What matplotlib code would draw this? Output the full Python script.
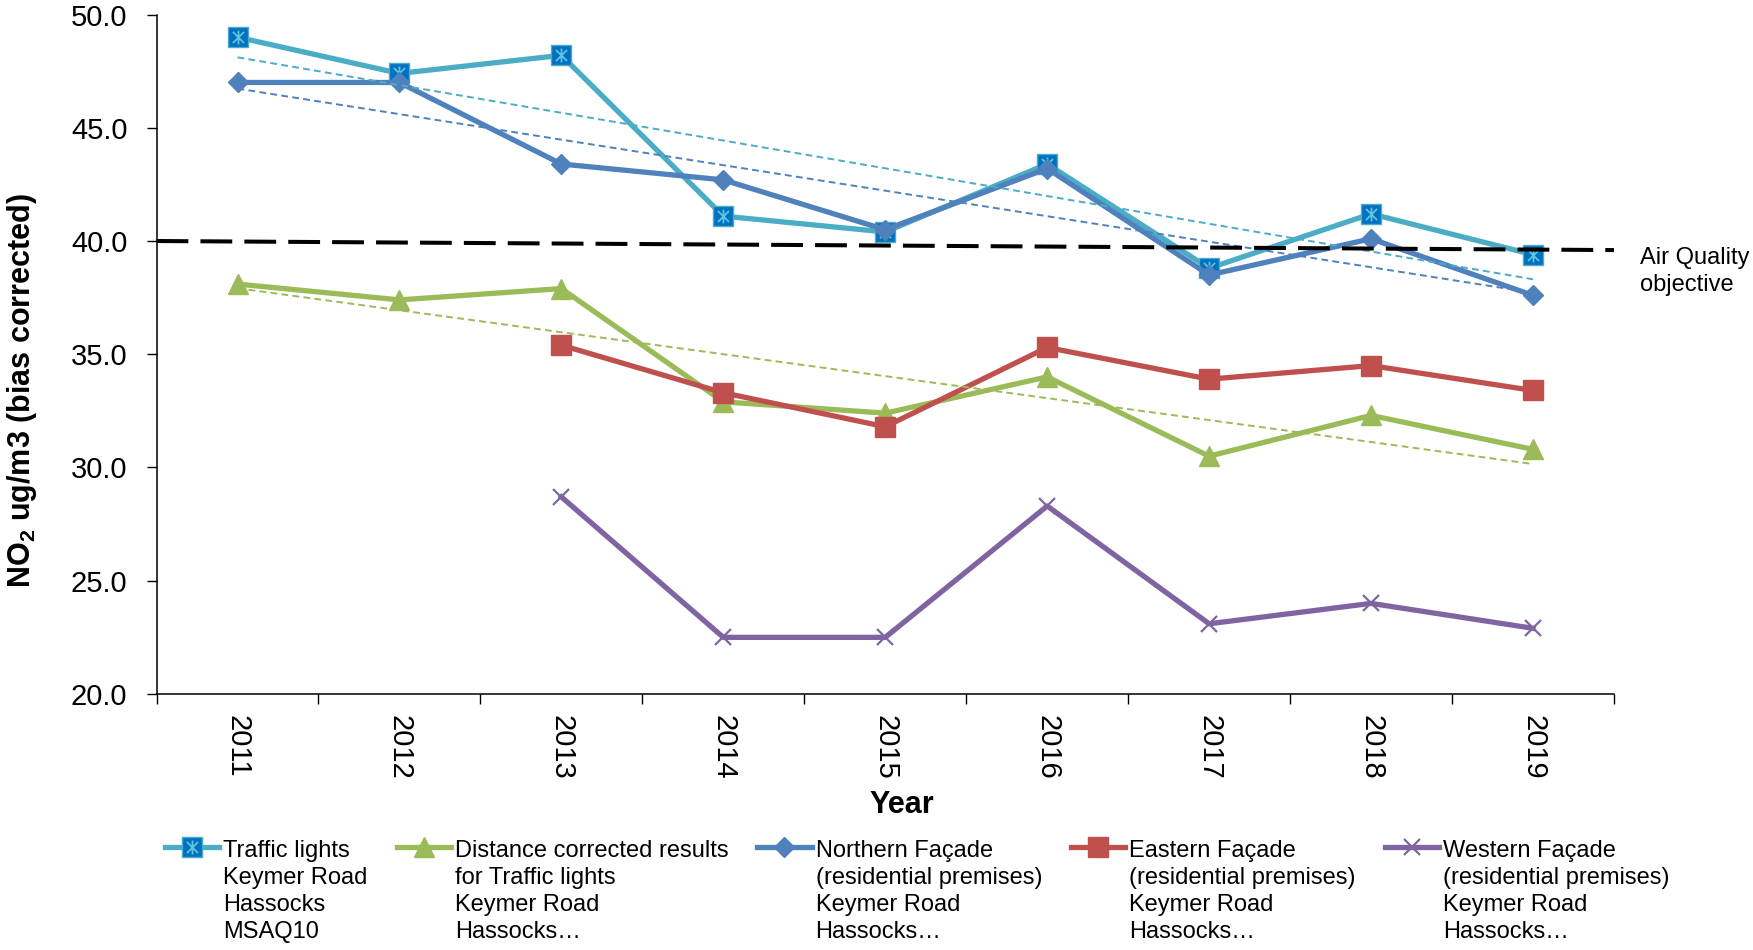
import numpy as np
import matplotlib
matplotlib.use("Agg")
import matplotlib.pyplot as plt
from matplotlib.lines import Line2D
from matplotlib.path import Path
from matplotlib.legend_handler import HandlerLine2D, HandlerTuple

plt.rcParams["font.family"] = ["Liberation Sans", "DejaVu Sans"]
plt.rcParams["mathtext.fontset"] = "custom"
plt.rcParams["mathtext.rm"] = "Liberation Sans"
plt.rcParams["mathtext.bf"] = "Liberation Sans:bold"

# ---- data -------------------------------------------------------------
years = ["2011", "2012", "2013", "2014", "2015", "2016", "2017", "2018", "2019"]
traffic_lights = [49.0, 47.4, 48.2, 41.1, 40.4, 43.4, 38.8, 41.2, 39.4]
distance_corrected = [38.1, 37.4, 37.9, 32.9, 32.4, 34.0, 30.5, 32.3, 30.8]
northern_facade = [47.0, 47.0, 43.4, 42.7, 40.5, 43.2, 38.5, 40.1, 37.6]
eastern_facade = [np.nan, np.nan, 35.4, 33.3, 31.8, 35.3, 33.9, 34.5, 33.4]
western_facade = [np.nan, np.nan, 28.7, 22.5, 22.5, 28.3, 23.1, 24.0, 22.9]
aq_objective = [40.0, 39.6]          # objective line level at the left / right edge
y_ticks = [20, 25, 30, 35, 40, 45, 50]

series_labels = [
    "Traffic lights\nKeymer Road\nHassocks\nMSAQ10",
    "Distance corrected results\nfor Traffic lights\nKeymer Road\nHassocks\u2026",
    "Northern Fa\u00e7ade\n(residential premises)\nKeymer Road\nHassocks\u2026",
    "Eastern Fa\u00e7ade\n(residential premises)\nKeymer Road\nHassocks\u2026",
    "Western Fa\u00e7ade\n(residential premises)\nKeymer Road\nHassocks\u2026",
]

# ---- styling ------------------------------------------------------------
C_TRAFFIC = "#4BACC6"
C_TRAFFIC_MK = "#0070C0"
C_GREEN = "#9BBB59"
C_BLUE = "#4F81BD"
C_RED = "#C0504D"
C_PURPLE = "#8064A2"
LW = 3.8

# asterisk-like marker: an "x" with a vertical bar through it
star_path = Path(
    [(-1, -1), (1, 1), (-1, 1), (1, -1), (0, -1.25), (0, 1.25)],
    [Path.MOVETO, Path.LINETO, Path.MOVETO, Path.LINETO, Path.MOVETO, Path.LINETO],
)


class FirstLineHandler(HandlerLine2D):
    """Line handler that lifts the legend key up to the first text line."""

    def __init__(self, lift, **kw):
        super().__init__(**kw)
        self.lift = lift

    def create_artists(self, legend, orig_handle, xdescent, ydescent,
                       width, height, fontsize, trans):
        arts = super().create_artists(legend, orig_handle, xdescent, ydescent,
                                      width, height, fontsize, trans)
        for a in arts:
            a.set_ydata(np.asarray(a.get_ydata(), dtype=float) + self.lift)
        return arts


fig = plt.figure(figsize=(17.53, 9.50), dpi=100)
ax = fig.add_axes([0.0893, 0.2695, 0.8314, 0.7152])

x = np.arange(len(years))

ln_traffic, = ax.plot(x, traffic_lights, color=C_TRAFFIC, lw=LW, marker="s",
                      ms=14, mfc=C_TRAFFIC_MK, mec=C_TRAFFIC, mew=1.0, zorder=3)
ln_star, = ax.plot(x, traffic_lights, ls="none", marker=star_path, ms=10,
                   mfc="none", mec="#5EC4E0", mew=1.3, zorder=3.1)
ln_green, = ax.plot(x, distance_corrected, color=C_GREEN, lw=LW, marker="^",
                    ms=14, mfc=C_GREEN, mec=C_GREEN, zorder=3.2)
ln_blue, = ax.plot(x, northern_facade, color=C_BLUE, lw=LW, marker="D",
                   ms=10.5, mfc=C_BLUE, mec=C_BLUE, zorder=3.3)
ln_red, = ax.plot(x, eastern_facade, color=C_RED, lw=LW, marker="s",
                  ms=14, mfc=C_RED, mec=C_RED, zorder=3.4)
ln_purple, = ax.plot(x, western_facade, color=C_PURPLE, lw=LW, marker="x",
                     ms=11, mec=C_PURPLE, mew=1.6, zorder=3.5)

# linear trend lines
for vals, col in [(traffic_lights, C_TRAFFIC), (northern_facade, C_BLUE),
                  (distance_corrected, C_GREEN)]:
    k, b = np.polyfit(x, vals, 1)
    xe = np.array([x[0], x[-1]])
    ax.plot(xe, k * xe + b, color=col, lw=1.4, ls=(0, (3.5, 2.2)), zorder=4)

ax.set_xlim(-0.5, len(years) - 0.5)
ax.set_ylim(y_ticks[0], y_ticks[-1])

# air quality objective
ax.plot(ax.get_xlim(), aq_objective, color="black", lw=2.9,
        ls=(0, (7.9, 3.0)), dash_capstyle="butt", zorder=5, clip_on=False)
ax.text(1.0178, 0.622, "Air Quality\nobjective", transform=ax.transAxes,
        ha="left", va="center", fontsize=17, linespacing=1.3)

# axes styling
for s in ("top", "right"):
    ax.spines[s].set_visible(False)
for s in ("left", "bottom"):
    ax.spines[s].set_linewidth(1.1)
    ax.spines[s].set_color("black")

ax.set_yticks(y_ticks)
ax.set_yticklabels([f"{v:.1f}" for v in y_ticks])
ax.tick_params(axis="y", direction="out", length=7, width=1.0, pad=14,
               labelsize=21, color="black")

ax.set_xticks(np.arange(-0.5, len(years), 1.0))
ax.set_xticklabels([])
ax.tick_params(axis="x", which="major", direction="out", length=7, width=1.0,
               color="black")
ax.set_xticks(x, minor=True)
ax.set_xticklabels(years, minor=True, rotation=-90)
ax.tick_params(axis="x", which="minor", length=0, pad=15, labelsize=21)

ax.set_xlabel("Year", fontsize=22, fontweight="bold")
ax.xaxis.set_label_coords(0.511, -0.163)
ax.xaxis.label.set_va("center")
ax.set_ylabel(r"NO$_\mathbf{2}$ ug/m3 (bias corrected)", fontsize=22,
              fontweight="bold")
ax.yaxis.set_label_coords(-0.0923, 0.446)
ax.yaxis.label.set_va("center")

# legend
handles = [(ln_traffic, ln_star), ln_green, ln_blue, ln_red, ln_purple]
leg = fig.legend(handles, series_labels, loc="upper left",
                 bbox_to_anchor=(165 / 1753, 1 - 840 / 950),
                 ncol=5, frameon=False, fontsize=17, handlelength=2.3,
                 handletextpad=0.17, columnspacing=1.22, borderpad=0,
                 borderaxespad=0,
                 handler_map={Line2D: FirstLineHandler(32.2),
                              tuple: HandlerTuple(ndivide=1)})
for t in leg.get_texts():
    t.set_linespacing(1.3)

fig.savefig("out.png", dpi=100)
